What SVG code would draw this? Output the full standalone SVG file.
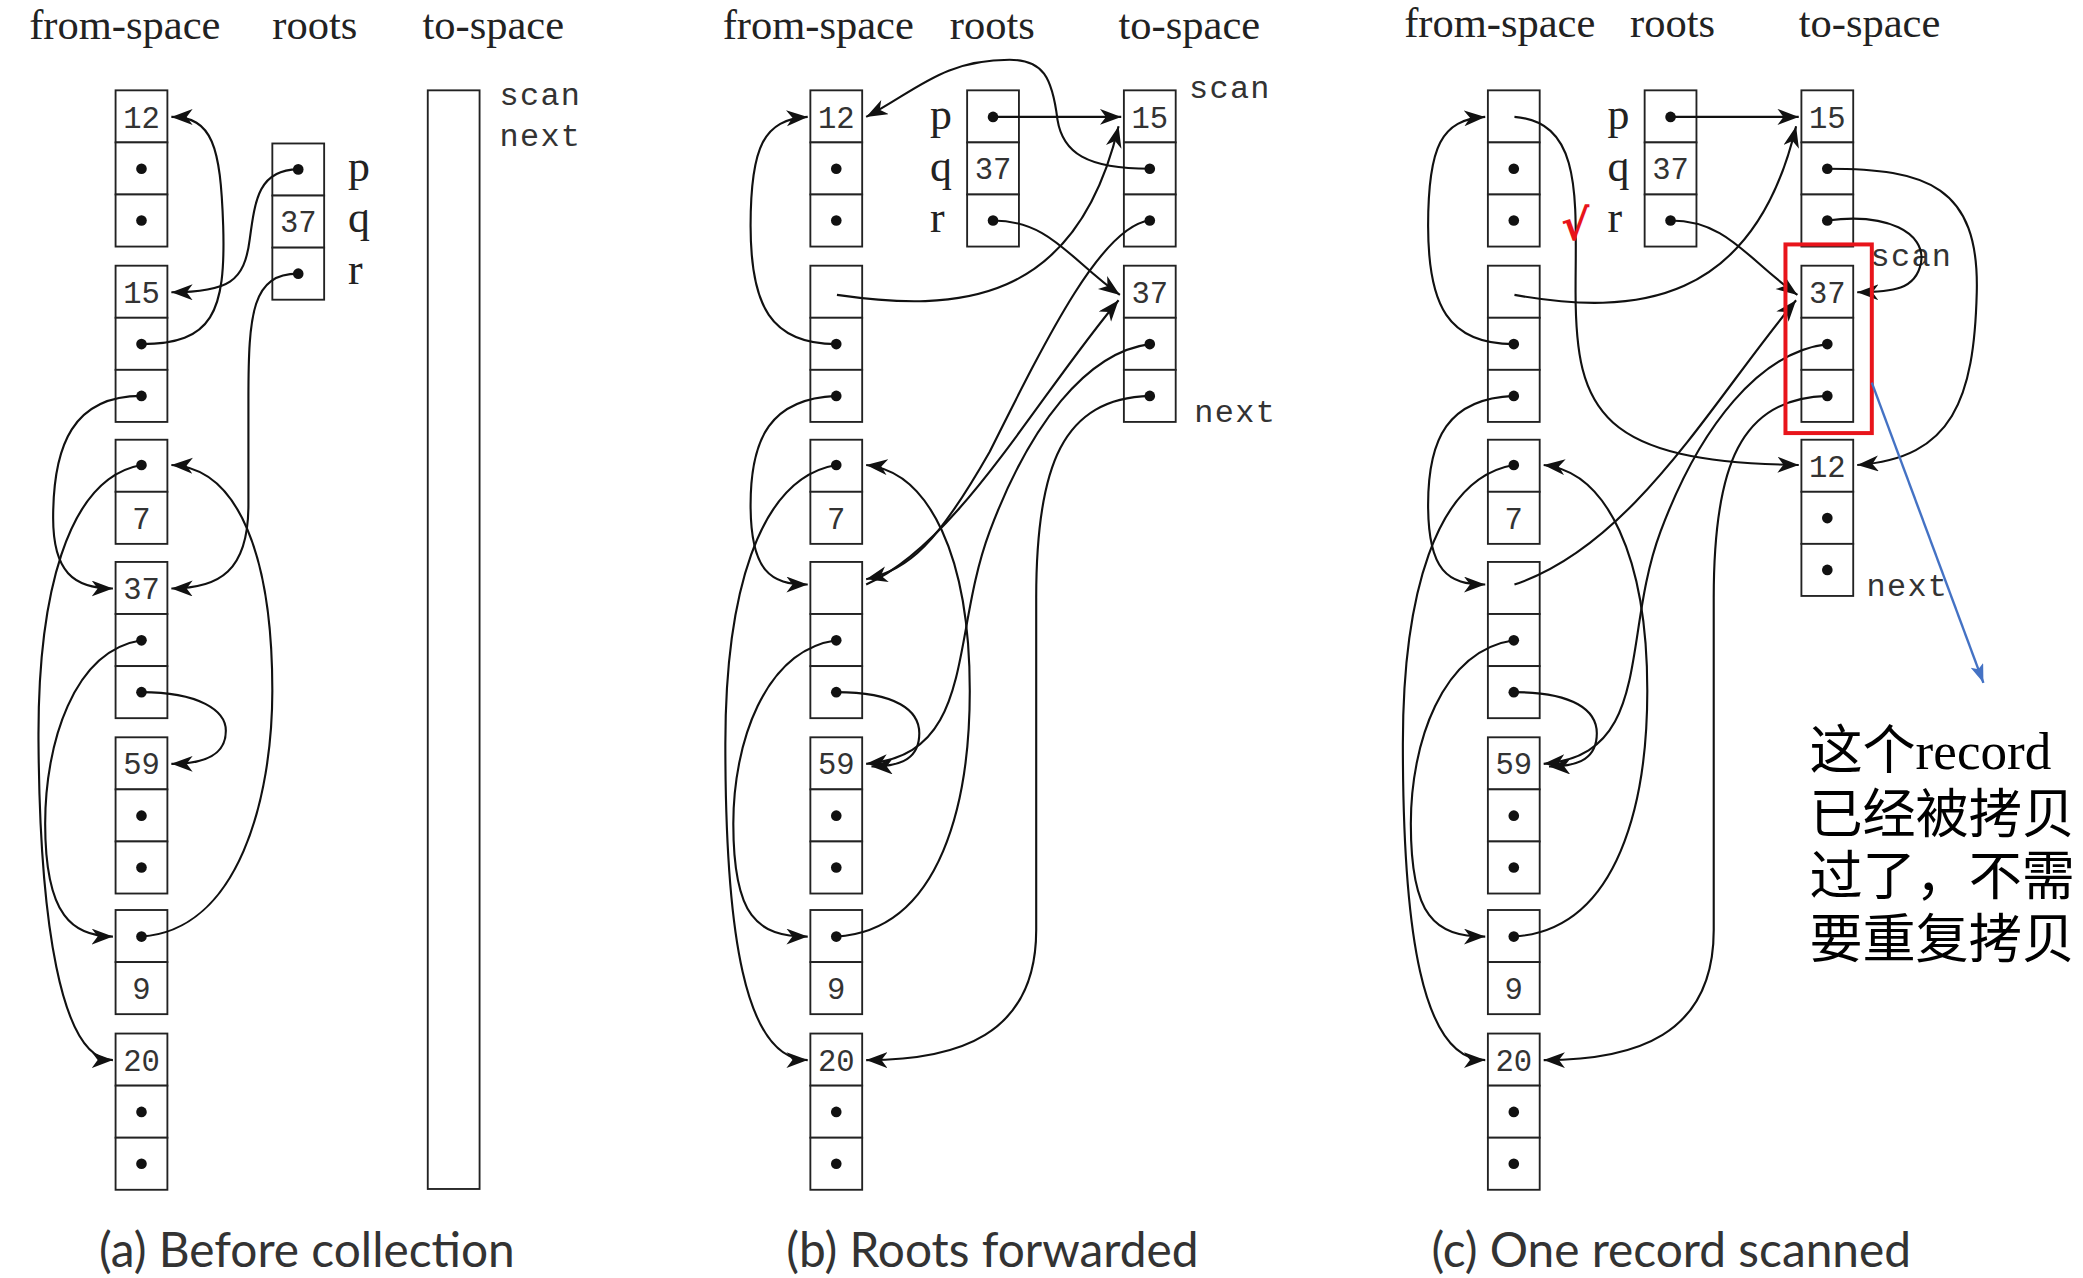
<svg xmlns="http://www.w3.org/2000/svg" xmlns:xlink="http://www.w3.org/1999/xlink" width="2083" height="1278" viewBox="0 0 2083 1278">
<style>
.c{fill:#fff;stroke:#222;stroke-width:1.4}
.d{fill:#111}
.n{font-family:"Liberation Mono",monospace;font-size:23px;fill:#333;text-anchor:middle}
.h{font-family:"Liberation Serif",serif;font-size:32px;fill:#222}
.l{font-family:"Liberation Serif",serif;font-size:33px;fill:#222}
.m{font-family:"Liberation Mono",monospace;font-size:24px;fill:#333;letter-spacing:1px}
.cap{font-family:Lato,"Open Sans",sans-serif;font-size:36px;fill:#333;text-anchor:middle}
.e{fill:none;stroke:#111;stroke-width:1.6;marker-end:url(#a)}
.zh{font-family:"Liberation Serif","Noto Sans CJK SC",serif;font-size:40px;fill:#000}
</style>
<defs>
<marker id="a" markerUnits="userSpaceOnUse" markerWidth="18" markerHeight="14" refX="16" refY="6" orient="auto"><path d="M0,0 L16,6 L0,12 L4.5,6 z" fill="#111"/></marker>
<marker id="ab" markerUnits="userSpaceOnUse" markerWidth="16" markerHeight="12" refX="14" refY="5" orient="auto"><path d="M0,0 L14,5 L0,10 L3,5 z" fill="#4472C4"/></marker>
<rect id="k" class="c" width="39" height="39.2"/>
<circle id="o" class="d" r="4"/>
</defs>
<g transform="scale(1.32847)">
<g id="headers">
<text class="h" x="22" y="29">from-space</text><text class="h" x="205" y="29">roots</text><text class="h" x="318" y="29">to-space</text>
<text class="h" x="544" y="29">from-space</text><text class="h" x="715" y="29">roots</text><text class="h" x="842" y="29">to-space</text>
<text class="h" x="1057" y="28">from-space</text><text class="h" x="1227" y="28">roots</text><text class="h" x="1354" y="28">to-space</text>
</g>
<g id="a-from">
<use href="#k" x="87" y="68"/><use href="#k" x="87" y="107.2"/><use href="#k" x="87" y="146.4"/>
<text class="n" x="106.5" y="96">12</text><use href="#o" x="106.5" y="127"/><use href="#o" x="106.5" y="166"/>
<use href="#k" x="87" y="200"/><use href="#k" x="87" y="239.2"/><use href="#k" x="87" y="278.4"/>
<text class="n" x="106.5" y="228">15</text><use href="#o" x="106.5" y="259"/><use href="#o" x="106.5" y="298"/>
<use href="#k" x="87" y="331"/><use href="#k" x="87" y="370.2"/>
<use href="#o" x="106.5" y="350"/><text class="n" x="106.5" y="398">7</text>
<use href="#k" x="87" y="423"/><use href="#k" x="87" y="462.2"/><use href="#k" x="87" y="501.4"/>
<text class="n" x="106.5" y="451">37</text><use href="#o" x="106.5" y="482"/><use href="#o" x="106.5" y="521"/>
<use href="#k" x="87" y="555"/><use href="#k" x="87" y="594.2"/><use href="#k" x="87" y="633.4"/>
<text class="n" x="106.5" y="583">59</text><use href="#o" x="106.5" y="614"/><use href="#o" x="106.5" y="653"/>
<use href="#k" x="87" y="685"/><use href="#k" x="87" y="724.2"/>
<use href="#o" x="106.5" y="705"/><text class="n" x="106.5" y="752">9</text>
<use href="#k" x="87" y="778"/><use href="#k" x="87" y="817.2"/><use href="#k" x="87" y="856.4"/>
<text class="n" x="106.5" y="806">20</text><use href="#o" x="106.5" y="837"/><use href="#o" x="106.5" y="876"/>
</g>
<g id="a-roots">
<use href="#k" x="205" y="108"/><use href="#k" x="205" y="147.2"/><use href="#k" x="205" y="186.4"/>
<use href="#o" x="224.5" y="127.5"/><text class="n" x="224.5" y="175">37</text><use href="#o" x="224.5" y="206"/>
<text class="l" x="262" y="136">p</text><text class="l" x="262" y="175">q</text><text class="l" x="262" y="214">r</text>
</g>
<g id="a-to">
<rect class="c" x="322" y="68" width="39" height="827"/>
<text class="m" x="376" y="79">scan</text><text class="m" x="376" y="110">next</text>
</g>
<g id="a-edges">
<path class="e" d="M106.5,259 C160,259 170,235 168,170 C166,110 160,88 129,88"/>
<path class="e" d="M224.5,127.5 C195,127.5 192,150 188,180 C184,212 172,220 129,220"/>
<path class="e" d="M224.5,206 C190,206 187,235 187,300 L187,380 C187,430 165,443 129,443"/>
<path class="e" d="M106.5,298 C55,298 40,335 40,390 C40,430 55,443 85,443"/>
<path class="e" d="M106.5,350 C50,360 28,450 29,560 C30,690 45,798 85,798"/>
<path class="e" d="M106.5,482 C55,490 34,560 34,620 C34,690 55,705 85,705"/>
<path class="e" d="M106.5,521 C150,521 170,535 170,550 C170,568 155,575 129,575"/>
<path class="e" d="M106.5,705 C180,700 205,600 205,520 C205,420 180,352 129,350"/>
</g>
<text class="cap" x="231" y="954">(a) Before collection</text>
<g id="b-from">
<use href="#k" x="610" y="68"/><use href="#k" x="610" y="107.2"/><use href="#k" x="610" y="146.4"/>
<text class="n" x="629.5" y="96">12</text><use href="#o" x="629.5" y="127"/><use href="#o" x="629.5" y="166"/>
<use href="#k" x="610" y="200"/><use href="#k" x="610" y="239.2"/><use href="#k" x="610" y="278.4"/>
<use href="#o" x="629.5" y="259"/><use href="#o" x="629.5" y="298"/>
<use href="#k" x="610" y="331"/><use href="#k" x="610" y="370.2"/>
<use href="#o" x="629.5" y="350"/><text class="n" x="629.5" y="398">7</text>
<use href="#k" x="610" y="423"/><use href="#k" x="610" y="462.2"/><use href="#k" x="610" y="501.4"/>
<use href="#o" x="629.5" y="482"/><use href="#o" x="629.5" y="521"/>
<use href="#k" x="610" y="555"/><use href="#k" x="610" y="594.2"/><use href="#k" x="610" y="633.4"/>
<text class="n" x="629.5" y="583">59</text><use href="#o" x="629.5" y="614"/><use href="#o" x="629.5" y="653"/>
<use href="#k" x="610" y="685"/><use href="#k" x="610" y="724.2"/>
<use href="#o" x="629.5" y="705"/><text class="n" x="629.5" y="752">9</text>
<use href="#k" x="610" y="778"/><use href="#k" x="610" y="817.2"/><use href="#k" x="610" y="856.4"/>
<text class="n" x="629.5" y="806">20</text><use href="#o" x="629.5" y="837"/><use href="#o" x="629.5" y="876"/>
</g>
<g id="b-roots">
<use href="#k" x="728" y="68"/><use href="#k" x="728" y="107.2"/><use href="#k" x="728" y="146.4"/>
<use href="#o" x="747.5" y="88"/><text class="n" x="747.5" y="135">37</text><use href="#o" x="747.5" y="166"/>
<text class="l" x="700" y="97">p</text><text class="l" x="700" y="136">q</text><text class="l" x="700" y="175">r</text>
</g>
<g id="b-to">
<use href="#k" x="846" y="68"/><use href="#k" x="846" y="107.2"/><use href="#k" x="846" y="146.4"/>
<text class="n" x="865.5" y="96">15</text><use href="#o" x="865.5" y="127"/><use href="#o" x="865.5" y="166"/>
<use href="#k" x="846" y="200"/><use href="#k" x="846" y="239.2"/><use href="#k" x="846" y="278.4"/>
<text class="n" x="865.5" y="228">37</text><use href="#o" x="865.5" y="259"/><use href="#o" x="865.5" y="298"/>
<text class="m" x="895" y="74">scan</text><text class="m" x="899" y="318">next</text>
</g>
<g id="b-edges">
<path class="e" d="M747.5,88 L844,88"/>
<path class="e" d="M747.5,166 C790,166 805,195 843,222"/>
<path class="e" d="M630,222 C720,235 810,230 842,95"/>
<path class="e" d="M652,440 C720,410 780,300 842,226"/>
<path class="e" d="M865.5,127 C818,127 800,115 796,90 C792,58 785,45 760,45 C710,45 690,68 652,88"/>
<path class="e" d="M865.5,166 C830,170 790,250 745,340 C705,410 685,428 652,436"/>
<path class="e" d="M865.5,259 C818,265 775,320 745,400 C715,480 735,568 652,575"/>
<path class="e" d="M865.5,298 C800,300 780,350 780,450 L780,700 C780,780 720,798 652,798"/>
<path class="e" d="M629.5,259 C580,259 565,230 565,170 C565,110 575,90 608,88"/>
<path class="e" d="M629.5,298 C580,300 565,330 565,380 C565,430 580,440 608,440"/>
<path class="e" d="M629.5,350 C570,360 546,450 546,560 C546,700 560,798 608,798"/>
<path class="e" d="M629.5,482 C575,490 552,560 552,620 C552,690 570,705 608,705"/>
<path class="e" d="M629.5,521 C675,521 692,535 692,552 C692,570 680,577 656,577"/>
<path class="e" d="M629.5,705 C710,700 730,600 730,520 C730,420 700,355 652,350"/>
</g>
<text class="cap" x="747" y="954">(b) Roots forwarded</text>
<g id="c-from">
<use href="#k" x="1120" y="68"/><use href="#k" x="1120" y="107.2"/><use href="#k" x="1120" y="146.4"/>
<use href="#o" x="1139.5" y="127"/><use href="#o" x="1139.5" y="166"/>
<use href="#k" x="1120" y="200"/><use href="#k" x="1120" y="239.2"/><use href="#k" x="1120" y="278.4"/>
<use href="#o" x="1139.5" y="259"/><use href="#o" x="1139.5" y="298"/>
<use href="#k" x="1120" y="331"/><use href="#k" x="1120" y="370.2"/>
<use href="#o" x="1139.5" y="350"/><text class="n" x="1139.5" y="398">7</text>
<use href="#k" x="1120" y="423"/><use href="#k" x="1120" y="462.2"/><use href="#k" x="1120" y="501.4"/>
<use href="#o" x="1139.5" y="482"/><use href="#o" x="1139.5" y="521"/>
<use href="#k" x="1120" y="555"/><use href="#k" x="1120" y="594.2"/><use href="#k" x="1120" y="633.4"/>
<text class="n" x="1139.5" y="583">59</text><use href="#o" x="1139.5" y="614"/><use href="#o" x="1139.5" y="653"/>
<use href="#k" x="1120" y="685"/><use href="#k" x="1120" y="724.2"/>
<use href="#o" x="1139.5" y="705"/><text class="n" x="1139.5" y="752">9</text>
<use href="#k" x="1120" y="778"/><use href="#k" x="1120" y="817.2"/><use href="#k" x="1120" y="856.4"/>
<text class="n" x="1139.5" y="806">20</text><use href="#o" x="1139.5" y="837"/><use href="#o" x="1139.5" y="876"/>
</g>
<g id="c-roots">
<use href="#k" x="1238" y="68"/><use href="#k" x="1238" y="107.2"/><use href="#k" x="1238" y="146.4"/>
<use href="#o" x="1257.5" y="88"/><text class="n" x="1257.5" y="135">37</text><use href="#o" x="1257.5" y="166"/>
<text class="l" x="1210" y="97">p</text><text class="l" x="1210" y="136">q</text><text class="l" x="1210" y="175">r</text>
</g>
<g id="c-to">
<use href="#k" x="1356" y="68"/><use href="#k" x="1356" y="107.2"/><use href="#k" x="1356" y="146.4"/>
<text class="n" x="1375.5" y="96">15</text><use href="#o" x="1375.5" y="127"/><use href="#o" x="1375.5" y="166"/>
<use href="#k" x="1356" y="200"/><use href="#k" x="1356" y="239.2"/><use href="#k" x="1356" y="278.4"/>
<text class="n" x="1375.5" y="228">37</text><use href="#o" x="1375.5" y="259"/><use href="#o" x="1375.5" y="298"/>
<use href="#k" x="1356" y="331"/><use href="#k" x="1356" y="370.2"/><use href="#k" x="1356" y="409.4"/>
<text class="n" x="1375.5" y="359">12</text><use href="#o" x="1375.5" y="390"/><use href="#o" x="1375.5" y="429"/>
<text class="m" x="1408" y="200">scan</text><text class="m" x="1405" y="449">next</text>
</g>
<g id="c-edges">
<path class="e" d="M1257.5,88 L1354,88"/>
<path class="e" d="M1257.5,166 C1300,166 1315,195 1353,222"/>
<path class="e" d="M1140,88 C1192,92 1186,150 1186,220 C1186,310 1205,348 1354,350"/>
<path class="e" d="M1140,222 C1230,238 1320,230 1352,95"/>
<path class="e" d="M1140,440 C1230,410 1290,300 1352,226"/>
<path class="e" d="M1375.5,127 C1450,127 1490,140 1488,220 C1486,300 1470,345 1398,350"/>
<path class="e" d="M1375.5,166 C1420,160 1450,175 1446,198 C1442,218 1425,220 1398,220"/>
<path class="e" d="M1375.5,259 C1325,265 1280,320 1250,400 C1220,480 1245,568 1162,575"/>
<path class="e" d="M1375.5,298 C1310,300 1290,350 1290,450 L1290,700 C1290,780 1230,798 1162,798"/>
<path class="e" d="M1139.5,259 C1090,259 1075,230 1075,170 C1075,110 1085,90 1118,88"/>
<path class="e" d="M1139.5,298 C1090,300 1075,330 1075,380 C1075,430 1090,440 1118,440"/>
<path class="e" d="M1139.5,350 C1080,360 1056,450 1056,560 C1056,700 1070,798 1118,798"/>
<path class="e" d="M1139.5,482 C1085,490 1062,560 1062,620 C1062,690 1080,705 1118,705"/>
<path class="e" d="M1139.5,521 C1185,521 1202,535 1202,552 C1202,570 1190,577 1166,577"/>
<path class="e" d="M1139.5,705 C1220,700 1240,600 1240,520 C1240,420 1210,355 1162,350"/>
</g>
<g id="annot">
<rect x="1344" y="184" width="65" height="142" fill="none" stroke="#e8141b" stroke-width="3"/>
<text x="1175" y="181" font-family="DejaVu Sans,sans-serif" font-size="32" font-weight="bold" fill="#e8141b">√</text>
<path d="M1409,288 L1493,514" fill="none" stroke="#4472C4" stroke-width="1.8" marker-end="url(#ab)"/>
<text class="zh" x="1362" y="579">这个record</text>
<text class="zh" x="1362" y="627">已经被拷贝</text>
<text class="zh" x="1362" y="674">过了，不需</text>
<text class="zh" x="1362" y="721">要重复拷贝</text>
</g>
<text class="cap" x="1258" y="954">(c) One record scanned</text>
</g>
</svg>
